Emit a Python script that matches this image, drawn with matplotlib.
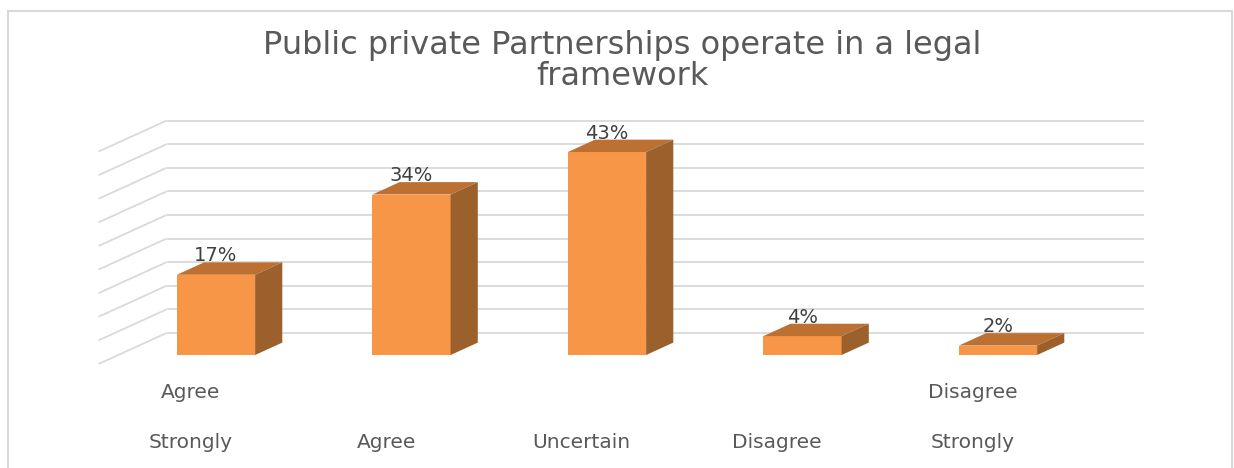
import matplotlib
matplotlib.use("Agg")
import matplotlib.pyplot as plt
from matplotlib.patches import Polygon, Rectangle

plt.rcParams['font.family'] = ['DejaVu Sans']

title = "Public private Partnerships operate in a legal\nframework"
# category text as it wraps under each bar (upper line, lower line)
cat_top = ["Agree", "", "", "", "Disagree"]
cat_bottom = ["Strongly", "Agree", "Uncertain", "Disagree", "Strongly"]
values = [17, 34, 43, 4, 2]
grid_vals = [0, 5, 10, 15, 20, 25, 30, 35, 40, 45]

FRONT = '#F79646'
TOP = '#BC7032'
SIDE = '#9C602C'
GRID = '#D9D9D9'

# oblique projection: one unit of depth moves right/up by (kx, ky) in data units
kx, ky = 68 / 195.5, 31 / 4.72
bar_w = 0.40
bar_depth = 0.40
wall_z = 0.71
floor_z = -0.29


def proj(x, v, z):
    return (x + z * kx, v + z * ky)


fig = plt.figure(figsize=(12.34, 4.68), dpi=100)
ax = fig.add_axes([0, 0, 1, 1])
ax.set_xlim(-216 / 195.5, (1234 - 216) / 195.5)
ax.set_ylim((355 - 468) / 4.72, 355 / 4.72)
ax.axis('off')

# back wall and left side wall gridlines
n = len(values)
for g in grid_vals:
    x0, y0 = proj(-0.5, g, wall_z)
    x1, y1 = proj(n - 0.5, g, wall_z)
    ax.plot([x0, x1], [y0, y1], color=GRID, lw=1.3, zorder=1, solid_capstyle='butt')
    xf, yf = proj(-0.5, g, floor_z)
    ax.plot([xf, x0], [yf, y0], color=GRID, lw=1.3, zorder=1, solid_capstyle='butt')

for i, v in enumerate(values):
    l, r = i - bar_w / 2, i + bar_w / 2
    ax.add_patch(Polygon([(l, 0), (r, 0), (r, v), (l, v)], closed=True,
                         facecolor=FRONT, edgecolor='none', zorder=3))
    ax.add_patch(Polygon([proj(l, v, 0), proj(r, v, 0), proj(r, v, bar_depth), proj(l, v, bar_depth)],
                         closed=True, facecolor=TOP, edgecolor='none', zorder=3))
    ax.add_patch(Polygon([proj(r, 0, 0), proj(r, v, 0), proj(r, v, bar_depth), proj(r, 0, bar_depth)],
                         closed=True, facecolor=SIDE, edgecolor='none', zorder=3))
    lx, ly = proj(i, v, bar_depth)
    ax.text(i, ly + 1.4, f"{v}%", ha='center', va='center', fontsize=14,
            color='#404040', zorder=4)

    # category labels below the floor
    fx, fy = proj(i, 0, floor_z)
    if cat_top[i]:
        ax.text(i - 0.13, fy - 29 / 4.72, cat_top[i], ha='center', va='center',
                fontsize=14.5, color='#595959')
    ax.text(i - 0.13, fy - 79 / 4.72, cat_bottom[i], ha='center', va='center',
            fontsize=14.5, color='#595959')

fig.text(622 / 1234, 1 - 61 / 468, title, ha='center', va='center', fontsize=23,
         color='#595959', linespacing=1.02)

# chart area border
fig.add_artist(Rectangle((8 / 1234, -0.05), (1232 - 8) / 1234, 1.05 - 11 / 468,
                         transform=fig.transFigure, fill=False, edgecolor=GRID, lw=1.5))

fig.savefig('out.png', dpi=100)
